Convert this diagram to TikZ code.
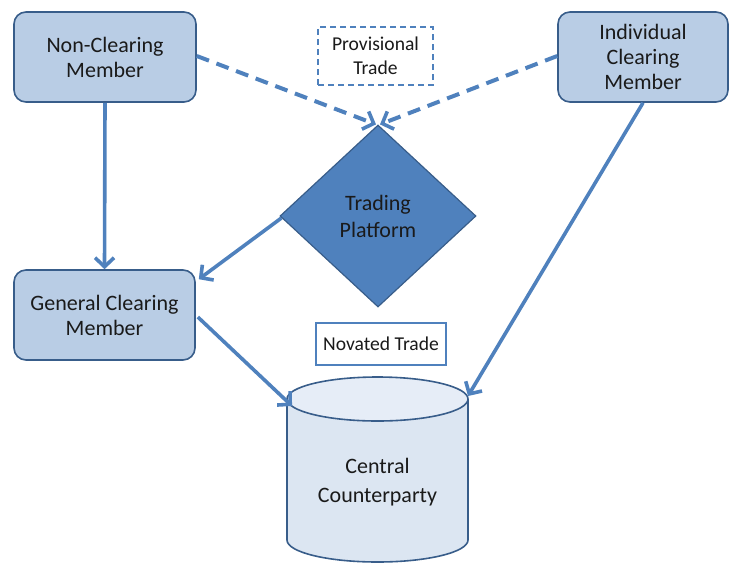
\documentclass[tikz,border=0pt]{standalone}
\usepackage{fontspec}
\setmainfont{Carlito}
\usetikzlibrary{arrows.meta,shapes.geometric,calc}
\definecolor{boxfill}{HTML}{B9CDE5}
\definecolor{boxline}{HTML}{385D8A}
\definecolor{accent}{HTML}{4F81BD}
\definecolor{cylfill}{HTML}{DCE6F2}
\definecolor{cyltop}{HTML}{E6EDF7}
\definecolor{ink}{HTML}{1A1A1A}
\begin{document}
\begin{tikzpicture}[x=1pt,y=-1pt,
  every node/.style={text=ink},
  member/.style={draw=boxline, line width=1.6pt, fill=boxfill, rounded corners=12pt,
    align=center, font=\fontsize{22}{25}\selectfont, inner sep=0pt},
  platform/.style={diamond, draw=boxline, line width=1.2pt, fill=accent, align=center,
    font=\fontsize{22}{27}\selectfont, inner sep=0pt, minimum width=196pt, minimum height=182pt},
  tag/.style={draw=accent, line width=1.4pt, fill=white, align=center,
    font=\fontsize{19.6}{24}\selectfont, inner sep=0pt},
  flow/.style={draw=accent, line width=3.6pt,
    -{Straight Barb[length=9pt,width=19pt,line width=3.6pt]}},
  proposal/.style={flow, dash pattern=on 13pt off 8pt, line width=4pt}
]
\useasboundingbox (0,0) rectangle (730,563);

% participants
\node[member, minimum width=182pt, minimum height=90pt] (ncm) at (105,57) {Non-Clearing\\Member};
\node[member, minimum width=170pt, minimum height=90pt] (icm) at (643,57) {Individual\\Clearing\\Member};
\node[member, minimum width=181pt, minimum height=90pt] (gcm) at (104.5,315) {General Clearing\\Member};

% trading venue
\node[platform] (tp) at (378,216) {Trading\\Platform};

% trade labels
\node[tag, dash pattern=on 6pt off 4pt, minimum width=115pt, minimum height=58pt] (prov) at (375.5,56) {Provisional\\Trade};
\node[tag, minimum width=130pt, minimum height=42pt] (nov) at (381,344) {Novated Trade};

% central counterparty drawn as a cylinder
\fill[cylfill] (287,399) -- (287,540) arc[start angle=180,end angle=360,x radius=90.5pt,y radius=22pt] -- (468,399) -- cycle;
\draw[boxline, line width=1.6pt] (287,399) -- (287,540) arc[start angle=180,end angle=360,x radius=90.5pt,y radius=22pt] -- (468,399);
\draw[boxline, line width=1.6pt, fill=cyltop] (377.5,399) ellipse [x radius=90.5pt, y radius=22pt];
\node[align=center, font=\fontsize{22}{29}\selectfont] (ccp) at (377.5,482) {Central\\Counterparty};
\coordinate (ccpL) at (292,406);
\coordinate (ccpR) at (468,396);

% connectors
\draw[flow] (ncm.south) -- (gcm.north);
\draw[flow] ([shift={(2,2)}]tp.west) -- ([shift={(3,10)}]gcm.north east);
\draw[flow] ([shift={(2,2)}]gcm.east) -- (ccpL);
\draw[flow] (icm.south) -- (ccpR);
\draw[proposal] ([yshift=1]ncm.east) -- ([xshift=-2]tp.north);
\draw[proposal] ([yshift=1]icm.west) -- ([xshift=2]tp.north);
\end{tikzpicture}
\end{document}
